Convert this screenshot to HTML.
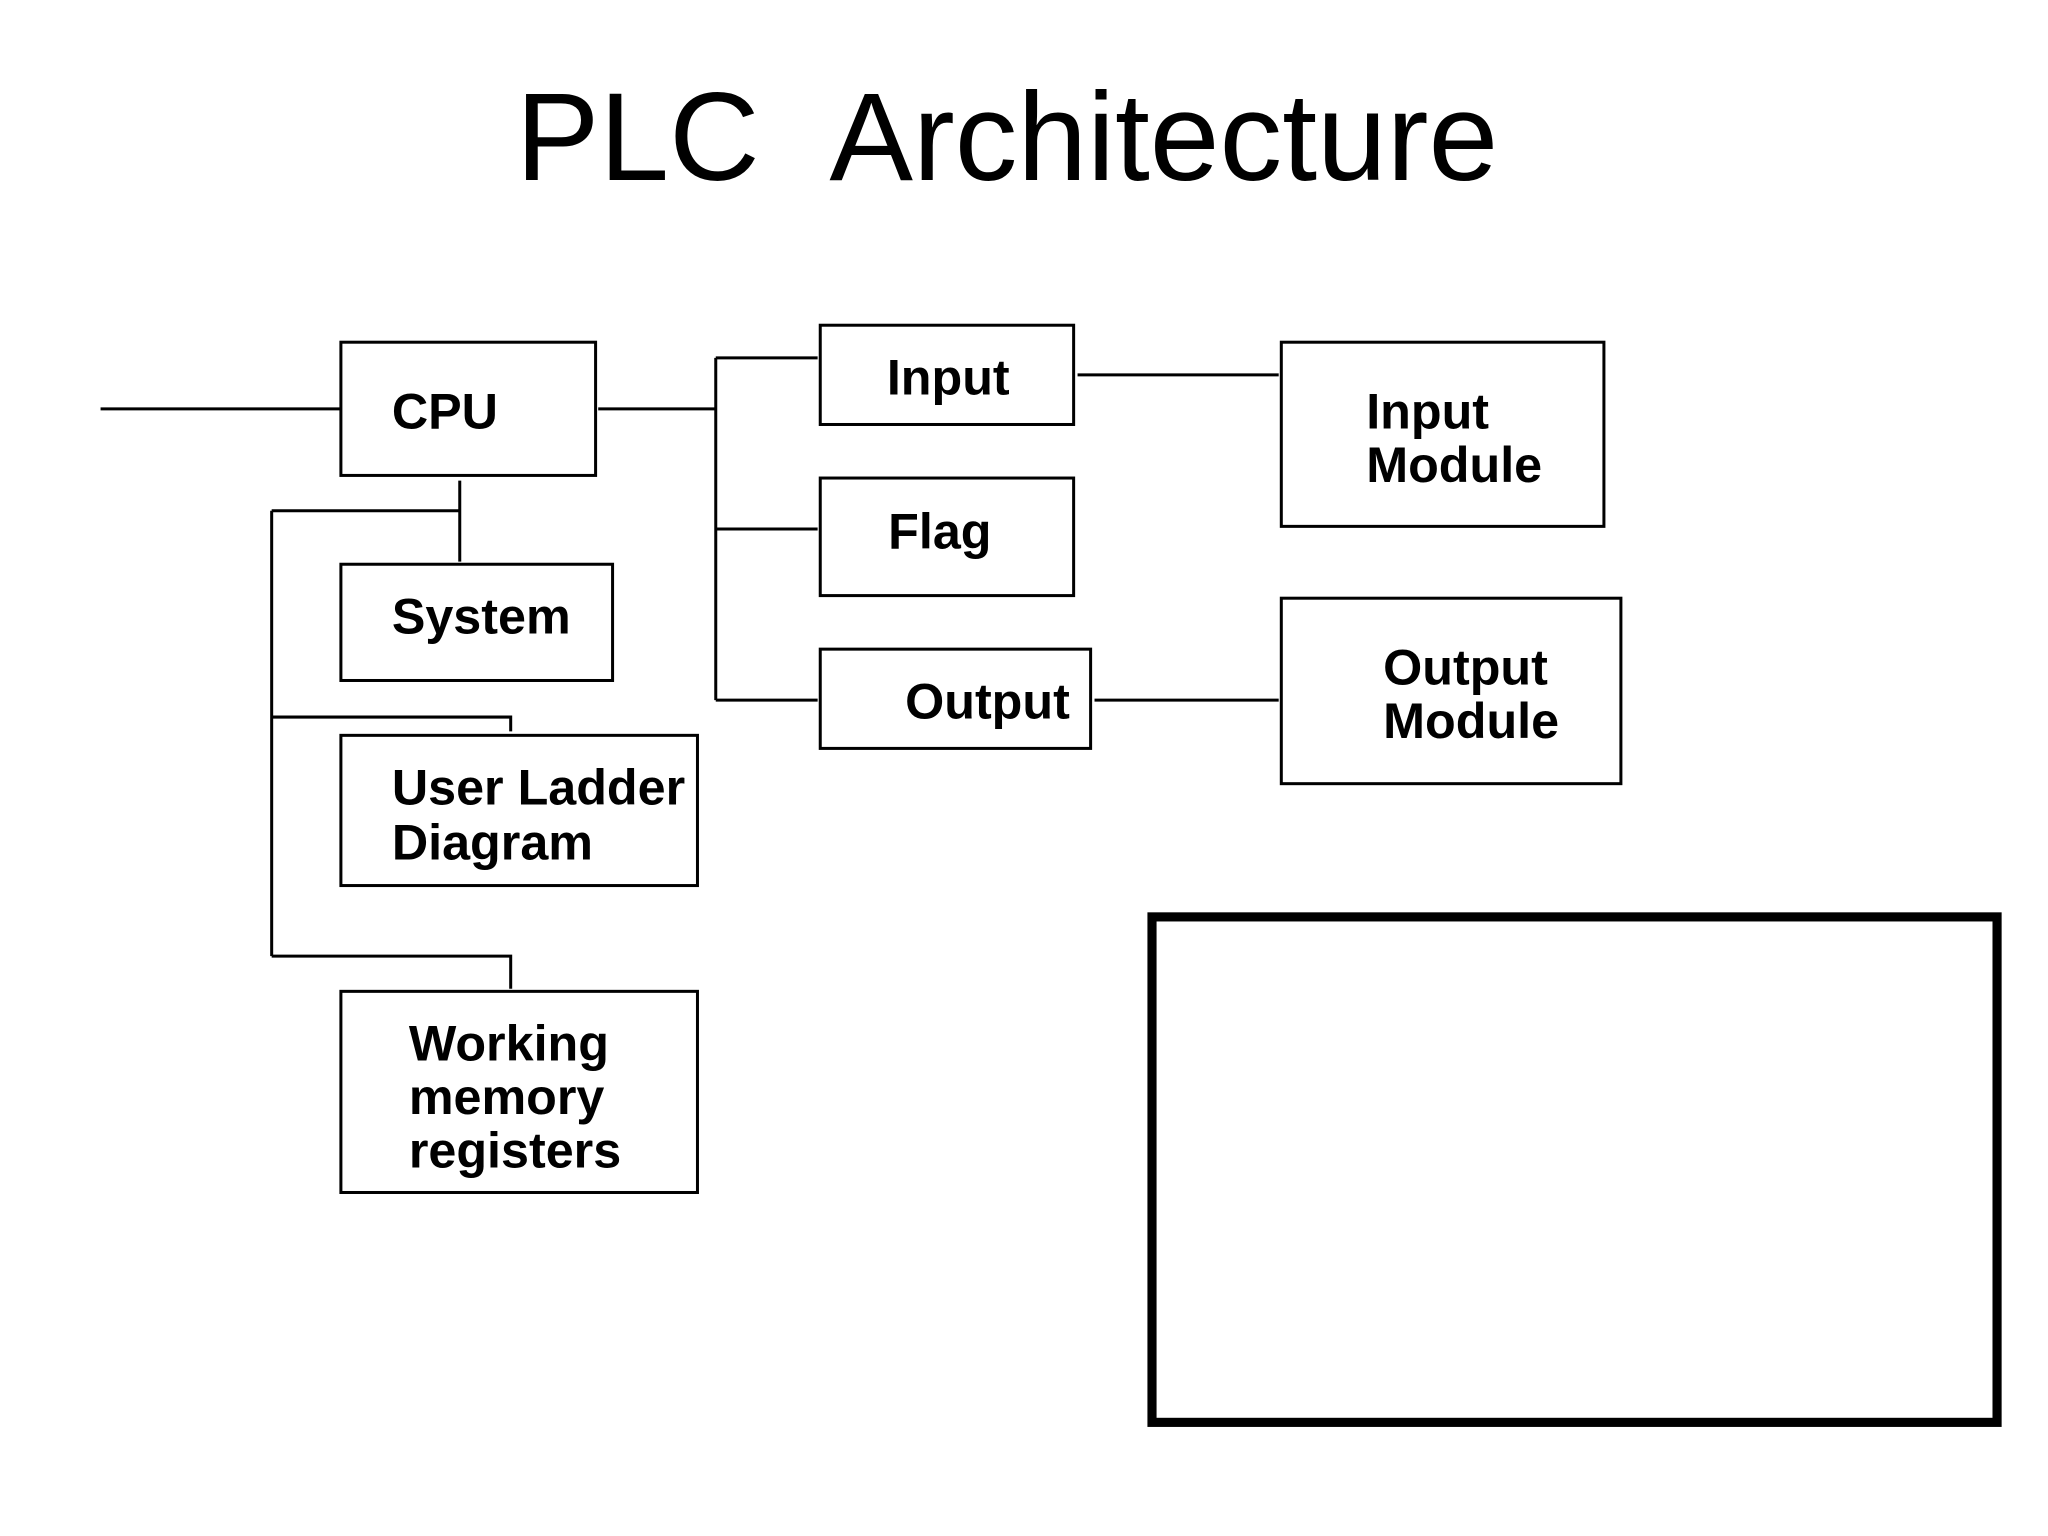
<!DOCTYPE html>
<html><head><meta charset="utf-8"><style>
html,body{margin:0;padding:0;background:#fff;}
svg{display:block;}
text{font-family:"Liberation Sans",Arial,sans-serif;fill:#000;}
.b{font-weight:bold;font-size:38.5px;}
</style></head><body>
<svg width="2048" height="1536" viewBox="0 0 1568 1176" xmlns="http://www.w3.org/2000/svg">
<rect width="1568" height="1176" fill="#fff"/>
<text x="771" y="138" text-anchor="middle" font-size="96">PLC&#160;&#160;Architecture</text>
<g fill="none" stroke="#000" stroke-width="2.3">
<rect x="261" y="262" width="195" height="102"/>
<rect x="261" y="432" width="208" height="89"/>
<rect x="261" y="563" width="273" height="115"/>
<rect x="261" y="759" width="273" height="154"/>
<rect x="628" y="249" width="194" height="76"/>
<rect x="628" y="366" width="194" height="90"/>
<rect x="628" y="497" width="207" height="76"/>
<rect x="981" y="262" width="247" height="141"/>
<rect x="981" y="458" width="260" height="142"/>
<path d="M77 313H261 M458 313H548 M548 274V536 M548 274H626 M548 405H626 M548 536H626 M825 287H979 M838 536H979 M352 368V430 M208 391H352 M208 391V732 M208 549H391V560 M208 732H391V757"/>
</g>
<rect x="882" y="702" width="647" height="387" fill="none" stroke="#000" stroke-width="7"/>
<text class="b" x="300" y="328">CPU</text>
<text class="b" x="300" y="485">System</text>
<text class="b" x="300" y="616">User Ladder</text>
<text class="b" x="300" y="658">Diagram</text>
<text class="b" x="313" y="812">Working</text>
<text class="b" x="313" y="853">memory</text>
<text class="b" x="313" y="894">registers</text>
<text class="b" x="679" y="302">Input</text>
<text class="b" x="680" y="420">Flag</text>
<text class="b" x="693" y="550">Output</text>
<text class="b" x="1046" y="328">Input</text>
<text class="b" x="1046" y="369">Module</text>
<text class="b" x="1059" y="524">Output</text>
<text class="b" x="1059" y="565">Module</text>
</svg>
</body></html>
